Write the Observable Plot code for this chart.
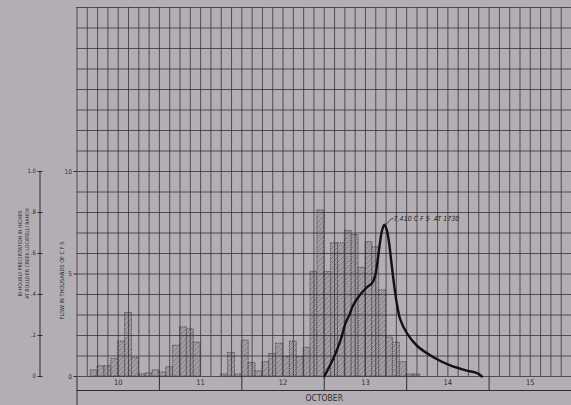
<!DOCTYPE html>
<html><head><meta charset="utf-8">
<script src="https://cdn.jsdelivr.net/npm/d3@7"></script>
<script src="https://cdn.jsdelivr.net/npm/@observablehq/plot@0.6"></script>
<style>
html,body{margin:0;padding:0;background:#b3aeb4;}
#chart{width:571px;height:405px;overflow:hidden;}
</style></head><body><div id="chart"></div>
<script>
// Day labels (October)
const days = ["10", "11", "12", "13", "14", "15"];
const monthLabel = "OCTOBER";
// Bi-hourly precipitation, inches (12 two-hour periods per day)
const precipOct10 = [0, 0, 0.03, 0.05, 0.05, 0.085, 0.17, 0.31, 0.09, 0.01, 0.015, 0.03];
const precipOct11 = [0.02, 0.045, 0.15, 0.24, 0.23, 0.165, 0, 0, 0, 0.01, 0.115, 0.01];
const precipOct12 = [0.175, 0.065, 0.025, 0.07, 0.11, 0.16, 0.095, 0.17, 0.095, 0.14, 0.51, 0.81];
const precipOct13 = [0.51, 0.65, 0.65, 0.71, 0.69, 0.53, 0.655, 0.63, 0.42, 0.19, 0.165, 0.07];
const precipOct14 = [0.01, 0.01, 0, 0, 0, 0, 0, 0, 0, 0, 0, 0];
// Flow hydrograph: hours after Oct 10 0000, thousands of cfs
const flowHours = [72, 74.7, 76.7, 78.2, 79.3, 80.5, 82.5, 84.4, 85.9, 86.8, 87.5, 88.2, 88.8, 89.5, 90.2, 90.9, 91.6, 92.4, 93.2, 94.1, 96.1, 99.0, 103.8, 108.7, 113.5, 115.9, 117.0, 117.9];
const flowKcfs  = [0, 0.9, 1.75, 2.6, 3.0, 3.5, 4.0, 4.35, 4.55, 4.9, 5.6, 6.5, 7.1, 7.41, 7.15, 6.5, 5.5, 4.4, 3.5, 2.8, 2.1, 1.5, 0.94, 0.54, 0.29, 0.2, 0.12, 0];
const peakLabel = "7,410 C F S  AT 1730";
const flowTicks = [0, 5, 10];
const flowTickLabels = ["0", "5", "10"];
const precipTicks = [0, 0.2, 0.4, 0.6, 0.8, 1.0];
const precipTickLabels = ["0", ".2", ".4", ".6", ".8", "1.0"];
const precipTitle = ["BI-HOURLY PRECIPITATION IN INCHES", "AT BOULDER CREEK LOCATELLI RANCH"];
const flowTitle = "FLOW IN THOUSANDS OF C F S";

const precip = [...precipOct10, ...precipOct11, ...precipOct12, ...precipOct13, ...precipOct14];
const bars = precip.map((p, i) => ({t0: i * 2, t1: i * 2 + 2, p})).filter(d => d.p > 0);
const flow = flowHours.map((h, i) => ({h, q: flowKcfs[i]}));
const peak = flow.reduce((a, b) => (b.q > a.q ? b : a));

const font = "'DejaVu Sans Condensed', 'Liberation Sans Narrow', 'DejaVu Sans', sans-serif";
const ink = "#2e2b30";
const grid = {stroke: ink, strokeOpacity: 0.75, strokeWidth: 1};

const chart = Plot.plot({
  width: 571, height: 405,
  marginLeft: 76.5, marginRight: 0, marginTop: 7, marginBottom: 29,
  x: {domain: [0, 144], axis: null},
  y: {domain: [0, 18], axis: null},
  style: {background: "#b3aeb4", color: ink, fontFamily: font, overflow: "visible"},
  marks: [
    Plot.rectY(bars, {x1: "t0", x2: "t1", y1: 0, y2: d => d.p * 10,
      fill: "url(#hatch)", stroke: "#3a373c", strokeWidth: 0.8, strokeDasharray: "1.4 0.9"}),
    Plot.ruleX(d3.range(0, 145, 3), grid),
    Plot.ruleY(d3.range(0, 19), grid),
    Plot.line(flow, {x: "h", y: "q", curve: "catmull-rom", stroke: "#111", strokeWidth: 2.4}),
    Plot.link([peak], {x1: "h", y1: "q", x2: d => d.h + 2.6, y2: d => d.q + 0.3, stroke: "#222", strokeWidth: 0.8, curve: "bump-x"}),
    Plot.text([peak], {x: d => d.h + 2.7, y: d => d.q + 0.3, text: () => peakLabel, textAnchor: "start",
      fontSize: 7, fontStyle: "italic", fill: "#222", letterSpacing: "0.3px"}),
    // flow axis
    Plot.axisY({ticks: flowTicks, tickFormat: d => flowTickLabels[flowTicks.indexOf(d)], tickSize: 3, tickPadding: 2,
      fontSize: 6.5, label: null, stroke: ink}),
    // precipitation axis
    Plot.ruleX([0], {y1: 0, y2: precipTicks[precipTicks.length - 1] * 10, dx: -37, stroke: ink, strokeWidth: 1}),
    Plot.axisY({ticks: precipTicks.map(d => d * 10),
      tickFormat: d => precipTickLabels[precipTicks.findIndex(p => Math.abs(p * 10 - d) < 1e-6)],
      tickSize: 5, tickPadding: 2, dx: -34, fontSize: 6, label: null, stroke: ink}),
    Plot.text([precipTitle[0]], {frameAnchor: "left", textAnchor: "middle", rotate: -90, dx: -56.5, dy: 61.5,
      lineAnchor: "middle", fontSize: 5.2, fill: ink}),
    Plot.text([precipTitle[1]], {frameAnchor: "left", textAnchor: "middle", rotate: -90, dx: -49.5, dy: 61.5,
      lineAnchor: "middle", fontSize: 5.2, fill: ink}),
    Plot.text([flowTitle], {frameAnchor: "left", textAnchor: "middle", rotate: -90, dx: -14.5, dy: 88.5,
      lineAnchor: "middle", fontSize: 5.6, fill: ink, letterSpacing: "1.5px"}),
    // day row
    Plot.axisX({ticks: d3.range(24, 144, 24), tickSize: 14, tickFormat: () => "", label: null, stroke: ink}),
    Plot.axisX({ticks: [0], tickSize: 29, tickFormat: () => "", label: null, stroke: ink}),
    Plot.axisX({ticks: d3.range(12, 144, 24), tickSize: 0, tickPadding: 3.5, tickFormat: d => days[(d - 12) / 24],
      fontSize: 7.5, label: null}),
    Plot.ruleY([0], {dy: 14, stroke: ink, strokeWidth: 1}),
    Plot.text([monthLabel], {frameAnchor: "bottom", textAnchor: "middle", dy: 21.5, fontSize: 8.5, letterSpacing: "0.6px",
      fill: ink, lineAnchor: "middle"})
  ]
});

const svg = d3.select(chart);
const defs = svg.insert("defs", ":first-child");
const pat = defs.append("pattern").attr("id", "hatch").attr("patternUnits", "userSpaceOnUse")
  .attr("width", 5).attr("height", 5);
pat.append("rect").attr("width", 5).attr("height", 5).attr("fill", "#a09ca2");
pat.append("path").attr("d", "M-1,1 L1,-1 M0,5 L5,0 M4,6 L6,4").attr("stroke", "#77737a").attr("stroke-width", 0.7);

document.getElementById("chart").appendChild(chart);
</script>
</body></html>
